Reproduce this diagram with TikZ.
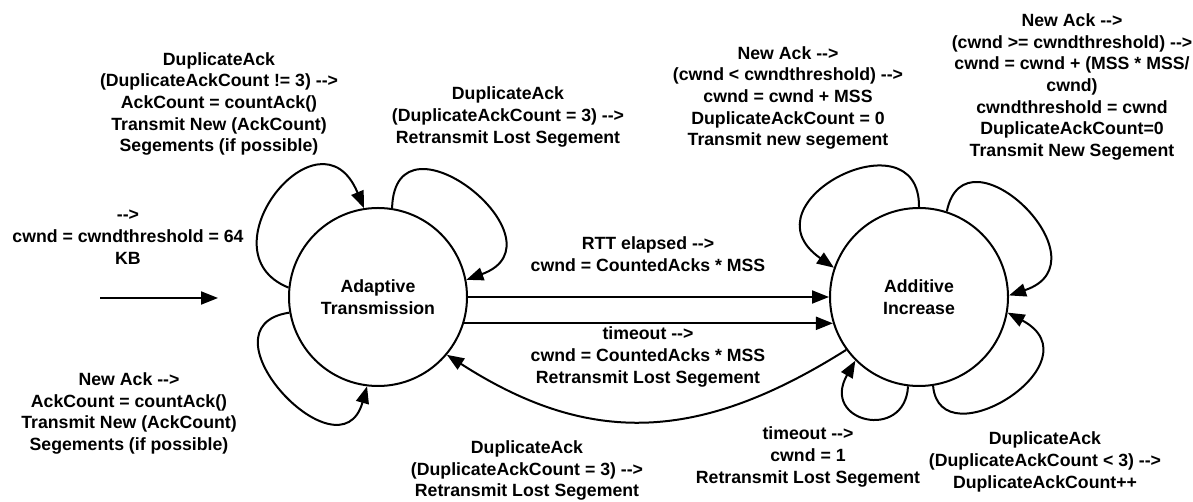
\documentclass[tikz,border=0pt]{standalone}
\usepackage{fontspec}
\setmainfont{Liberation Sans}
\usetikzlibrary{arrows.meta}
\newcommand{\goes}{-{}->}
\begin{document}
\begin{tikzpicture}[x=0.5pt,y=0.5pt,line width=1pt,
  >={Triangle[length=8.5pt,width=6.5pt]},
  every node/.style={font=\bfseries\fontsize{8.85}{10.85}\selectfont},
  state/.style={circle,draw,minimum size=89pt,inner sep=0pt,align=center},
  lbl/.style={align=center,inner sep=0pt}]
  \useasboundingbox (0,0) rectangle (1193,502);
  \node[state] (adapt) at (378,205) {Adaptive\\Transmission};
  \node[state] (incr) at (919,205) {Additive\\Increase};
  \coordinate (init) at (100,204);
  \coordinate (initend) at (218,204);
  \draw[->] (init) -- (initend);
  \draw[->] (adapt.east) -- (incr.west);
  \draw[->] (adapt.-17.5) -- (incr.197.5);
  \draw[->] (incr.216) .. controls (700,60) and (590,55) .. (adapt.320);
  % self loops
  \draw[->] (adapt.174) .. controls (200,250) and (320,400) .. (adapt.99);
  \draw[->] (adapt.81) .. controls (395,400) and (570,260) .. (adapt.11);
  \draw[->] (adapt.190) .. controls (195,175) and (340,20) .. (adapt.263);
  \draw[->] (incr.90) .. controls (920,390) and (740,300) .. (incr.161);
  \draw[->] (incr.72) .. controls (965,380) and (1110,240) .. (incr.1);
  \draw[->] (incr.279) .. controls (940,40) and (1100,140) .. (incr.350);
  \draw[->] (incr.263) .. controls (905,60) and (820,80) .. (incr.225);
  % labels
  \node[lbl] (initlbl) at (128,265) {\goes\\cwnd = cwndthreshold = 64\\KB};
  \node[lbl] (dupne) at (219,398) {DuplicateAck\\(DuplicateAckCount != 3) \goes\\AckCount = countAck()\\Transmit New (AckCount)\\Segements (if possible)};
  \node[lbl] (dupeq) at (508,385) {DuplicateAck\\(DuplicateAckCount = 3) \goes\\Retransmit Lost Segement};
  \node[lbl] (newack) at (129,88.5) {New Ack \goes\\AckCount = countAck()\\Transmit New (AckCount)\\Segements (if possible)};
  \node[lbl] (rtt) at (648,248) {RTT elapsed \goes\\cwnd = CountedAcks * MSS};
  \node[lbl] (tmoa) at (648,145) {timeout \goes\\cwnd = CountedAcks * MSS\\Retransmit Lost Segement};
  \node[lbl] (dupback) at (527,31.5) {DuplicateAck\\(DuplicateAckCount = 3) \goes\\Retransmit Lost Segement};
  \node[lbl] (tmob) at (808,45) {timeout \goes\\cwnd = 1\\Retransmit Lost Segement};
  \node[lbl] (duplt) at (1045,40) {DuplicateAck\\(DuplicateAckCount < 3) \goes\\DuplicateAckCount++};
  \node[lbl] (slow) at (788,404) {New Ack \goes\\(cwnd < cwndthreshold) \goes\\cwnd = cwnd + MSS\\DuplicateAckCount = 0\\Transmit new segement};
  \node[lbl] (avoid) at (1072,415) {New Ack \goes\\(cwnd >= cwndthreshold) \goes\\cwnd = cwnd + (MSS * MSS/\\cwnd)\\cwndthreshold = cwnd\\DuplicateAckCount=0\\Transmit New Segement};
\end{tikzpicture}
\end{document}
